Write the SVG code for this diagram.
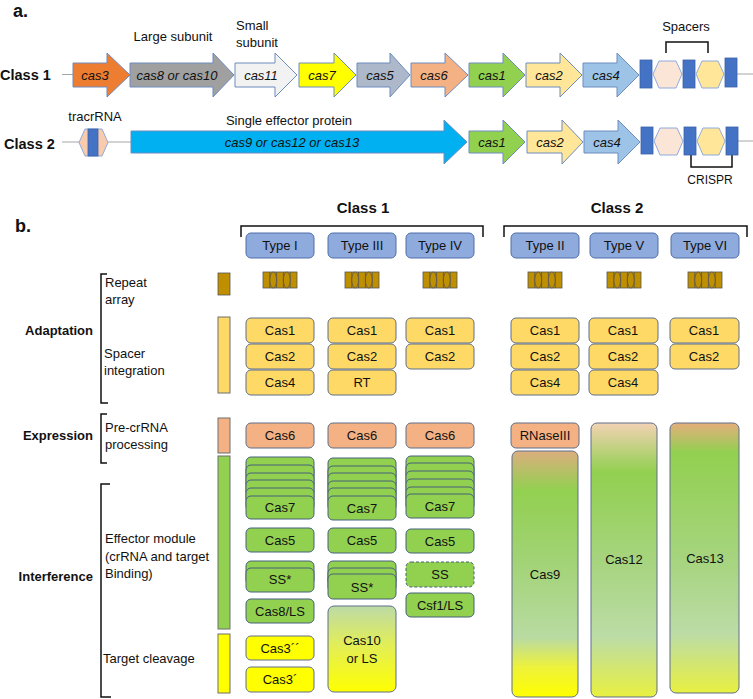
<svg xmlns="http://www.w3.org/2000/svg" width="753" height="699" viewBox="0 0 753 699">
<style>
text{font-family:"Liberation Sans",Arial,sans-serif;fill:#111}
.it{font-style:italic;font-size:13px;text-anchor:middle}
.lb{font-size:13px}
.bd{font-weight:bold;font-size:14px}
.c{text-anchor:middle}
.r{text-anchor:end}
.arr{stroke:#6d8cbf;stroke-width:1}
.ln{stroke:#a6a6a6;stroke-width:1;fill:none}
.rep{fill:#4472c4;stroke:#3a62a8;stroke-width:0.8}
.hex{stroke:#8faadc;stroke-width:1}
.br{fill:none;stroke:#111;stroke-width:1.5}
.typ{fill:#8faadc;stroke:#4f6fa8;stroke-width:1}
.y{fill:#ffd966;stroke:#5f6f8a;stroke-width:1}
.o{fill:#f4b183;stroke:#5f6f8a;stroke-width:1}
.g{fill:#92d050;stroke:#46607a;stroke-width:1}
.ye{fill:#ffff00;stroke:#5f6f8a;stroke-width:1}
.bar{stroke:#6f6f6f;stroke-width:1}
.bt{font-size:13px;text-anchor:middle}
</style>
<defs>
<g id="ra">
<rect x="0" y="0" width="34" height="16" fill="#bf8f00" stroke="#555" stroke-width="0.8"/>
<path d="M6.8 0V16M13.6 0V16M20.4 0V16M27.2 0V16" stroke="#555" stroke-width="0.8"/>
<ellipse cx="10.2" cy="8" rx="3.4" ry="8" fill="#bf8f00" stroke="#555" stroke-width="0.8"/>
<ellipse cx="23.8" cy="8" rx="3.4" ry="8" fill="#bf8f00" stroke="#555" stroke-width="0.8"/>
</g>
<linearGradient id="gCas9" x1="0" y1="0" x2="0" y2="1">
<stop offset="0" stop-color="#dcae7e"/><stop offset="0.16" stop-color="#92d050"/><stop offset="0.45" stop-color="#a2d376"/><stop offset="0.76" stop-color="#b9dba2"/><stop offset="0.88" stop-color="#eef23a"/><stop offset="1" stop-color="#ffff00"/>
</linearGradient>
<linearGradient id="gCas12" x1="0" y1="0" x2="0" y2="1">
<stop offset="0" stop-color="#f2d2b4"/><stop offset="0.18" stop-color="#92d050"/><stop offset="0.5" stop-color="#a6d47e"/><stop offset="0.78" stop-color="#bcdca6"/><stop offset="1" stop-color="#e8f040"/>
</linearGradient>
<linearGradient id="gCas13" x1="0" y1="0" x2="0" y2="1">
<stop offset="0" stop-color="#e4ae7c"/><stop offset="0.11" stop-color="#92d050"/><stop offset="0.5" stop-color="#a6d47e"/><stop offset="0.78" stop-color="#bcdca6"/><stop offset="1" stop-color="#e8f040"/>
</linearGradient>
<linearGradient id="gCas10" x1="0" y1="0" x2="0" y2="1">
<stop offset="0" stop-color="#bcdaa6"/><stop offset="0.45" stop-color="#e2ee58"/><stop offset="1" stop-color="#ffff00"/>
</linearGradient>
</defs>

<!-- Part a -->
<text x="13" y="17" class="bd" style="font-size:18px">a.</text>
<text x="0" y="80" class="bd" style="font-size:14.5px">Class 1</text>
<text x="4" y="149" class="bd" style="font-size:14.5px">Class 2</text>

<g id="connectors">
<path class="ln" d="M62 74.5H73M737 74H753M62 142H80M108 142H131M738 141H753"/>
<path class="br" d="M666 53V42H708V53"/>
<path class="br" d="M691 155V167H732V155"/>
<path class="br" d="M241 237V226H483V237"/>
<path class="br" d="M504 237V226H747V237"/>
<path class="br" d="M107 274H101V403H108"/>
<path class="br" d="M107 414H101V463H107"/>
<path class="br" d="M110 484H101V697H111"/>
</g>

<text x="173" y="41" class="lb c">Large subunit</text>
<text x="236" y="30" class="lb">Small</text>
<text x="236" y="47" class="lb">subunit</text>
<text x="686" y="31" class="lb c">Spacers</text>
<text x="95" y="121" class="lb c">tracrRNA</text>
<text x="289" y="125" class="lb c">Single effector protein</text>
<text x="710" y="184" class="lb c" style="font-size:12px">CRISPR</text>

<g id="cas3"><path class="arr" fill="#ed7d31" d="M73 63H107V53L130 75L107 97V87H73Z"/><text x="95" y="80" class="it">cas3</text></g>
<g id="cas8"><path class="arr" fill="#a0a0a0" d="M130 63H213V53L234 75L213 97V87H130Z"/><text x="177" y="80" class="it">cas8 or cas10</text></g>
<g id="cas11"><path class="arr" fill="#f2f2f2" d="M235 63H275V53L297 75L275 97V87H235Z"/><text x="261" y="80" class="it">cas11</text></g>
<g id="cas7a"><path class="arr" fill="#ffff00" d="M299 63H334V53L356 75L334 97V87H299Z"/><text x="322" y="80" class="it">cas7</text></g>
<g id="cas5a"><path class="arr" fill="#adb9ca" d="M357 63H390V53L410 75L390 97V87H357Z"/><text x="380" y="80" class="it">cas5</text></g>
<g id="cas6a"><path class="arr" fill="#f4b183" d="M411 63H445V53L468 75L445 97V87H411Z"/><text x="434" y="80" class="it">cas6</text></g>
<g id="cas1a"><path class="arr" fill="#92d050" d="M469 63H503V53L525 75L503 97V87H469Z"/><text x="492" y="80" class="it">cas1</text></g>
<g id="cas2a"><path class="arr" fill="#ffe699" d="M526 63H560V53L582 75L560 97V87H526Z"/><text x="549" y="80" class="it">cas2</text></g>
<g id="cas4a"><path class="arr" fill="#9dc3e6" d="M583 63H617V53L639 75L617 97V87H583Z"/><text x="606" y="80" class="it">cas4</text></g>
<g id="crispr1">
<rect class="rep" x="640" y="60" width="12" height="28"/>
<polygon class="hex" fill="#fbe5d6" points="653,74 659,61 676,61 682,74 676,88 659,88"/>
<rect class="rep" x="683" y="60" width="12" height="28"/>
<polygon class="hex" fill="#ffe699" points="696,74 702,61 718,61 724,74 718,88 702,88"/>
<rect class="rep" x="725" y="58" width="12" height="29"/>
</g>

<g id="tracr">
<polygon class="hex" fill="#f8cbad" points="79,142.5 85,129 102,129 108,142.5 102,156 85,156"/>
<rect class="rep" x="88" y="129" width="10" height="27"/>
</g>
<g id="cas9a"><path class="arr" fill="#00b0f0" d="M131 131H444V120L467 142L444 164V153H131Z"/><text x="292" y="147" class="it">cas9 or cas12 or cas13</text></g>
<g id="cas1b"><path class="arr" fill="#92d050" d="M469 131H503V120L525 142L503 164V153H469Z"/><text x="492" y="147" class="it">cas1</text></g>
<g id="cas2b"><path class="arr" fill="#ffe699" d="M527 131H562V120L583 142L562 164V153H527Z"/><text x="550" y="147" class="it">cas2</text></g>
<g id="cas4b"><path class="arr" fill="#9dc3e6" d="M584 131H618V120L640 142L618 164V153H584Z"/><text x="607" y="147" class="it">cas4</text></g>
<g id="crispr2">
<rect class="rep" x="641" y="127" width="12" height="27"/>
<polygon class="hex" fill="#fbe5d6" points="654,141 660,128 677,128 683,141 677,155 660,155"/>
<rect class="rep" x="684" y="127" width="12" height="28"/>
<polygon class="hex" fill="#ffe699" points="697,141 703,128 719,128 725,141 719,155 703,155"/>
<rect class="rep" x="726" y="127" width="12" height="28"/>
</g>

<!-- Part b -->
<text x="15" y="232" class="bd" style="font-size:18px">b.</text>
<text x="363" y="213" class="bd c" style="font-size:15px">Class 1</text>
<text x="617" y="213" class="bd c" style="font-size:15px">Class 2</text>

<g id="typeI"><rect class="typ" x="246" y="233" width="68" height="25" rx="5"/><text x="280" y="250" class="bt">Type I</text></g>
<g id="typeIII"><rect class="typ" x="328" y="233" width="68" height="25" rx="5"/><text x="362" y="250" class="bt">Type III</text></g>
<g id="typeIV"><rect class="typ" x="406" y="233" width="68" height="25" rx="5"/><text x="440" y="250" class="bt">Type IV</text></g>
<g id="typeII"><rect class="typ" x="511" y="233" width="68" height="25" rx="5"/><text x="545" y="250" class="bt">Type II</text></g>
<g id="typeV"><rect class="typ" x="590" y="233" width="68" height="25" rx="5"/><text x="624" y="250" class="bt">Type V</text></g>
<g id="typeVI"><rect class="typ" x="671" y="233" width="68" height="25" rx="5"/><text x="705" y="250" class="bt">Type VI</text></g>

<g id="repeats">
<rect x="218" y="273" width="12" height="22" fill="#bf8f00" stroke="#555" stroke-width="0.8"/>
<use href="#ra" x="263" y="272"/>
<use href="#ra" x="345" y="272"/>
<use href="#ra" x="423" y="272"/>
<use href="#ra" x="528" y="272"/>
<use href="#ra" x="607" y="272"/>
<use href="#ra" x="688" y="272"/>
</g>

<g id="labels">
<text x="105" y="287" class="lb">Repeat</text>
<text x="105" y="304" class="lb">array</text>
<text x="93" y="335" class="bd r" style="font-size:13px">Adaptation</text>
<text x="104" y="358" class="lb">Spacer</text>
<text x="104" y="375" class="lb">integration</text>
<text x="93" y="440" class="bd r" style="font-size:13px">Expression</text>
<text x="105" y="432" class="lb">Pre-crRNA</text>
<text x="105" y="449" class="lb">processing</text>
<text x="93" y="581" class="bd r" style="font-size:13px">Interference</text>
<text x="105" y="543" class="lb">Effector module</text>
<text x="105" y="561" class="lb">(crRNA and target</text>
<text x="105" y="578" class="lb">Binding)</text>
<text x="103" y="663" class="lb">Target cleavage</text>
</g>

<g id="bars">
<rect class="bar" x="218" y="317" width="12" height="76" fill="#ffd966"/>
<rect class="bar" x="218" y="418" width="12" height="35" fill="#f4b183"/>
<rect class="bar" x="218" y="456" width="12" height="173" fill="#92d050"/>
<rect class="bar" x="218" y="634" width="12" height="59" fill="#ffff00"/>
</g>

<!-- Adaptation proteins -->
<g id="adaptI">
<rect class="y" x="246" y="318" width="68" height="25" rx="5"/><text x="280" y="335" class="bt">Cas1</text>
<rect class="y" x="246" y="344" width="68" height="25" rx="5"/><text x="280" y="361" class="bt">Cas2</text>
<rect class="y" x="246" y="370" width="68" height="25" rx="5"/><text x="280" y="387" class="bt">Cas4</text>
</g>
<g id="adaptIII">
<rect class="y" x="328" y="318" width="68" height="25" rx="5"/><text x="362" y="335" class="bt">Cas1</text>
<rect class="y" x="328" y="344" width="68" height="25" rx="5"/><text x="362" y="361" class="bt">Cas2</text>
<rect class="y" x="328" y="370" width="68" height="25" rx="5"/><text x="362" y="387" class="bt">RT</text>
</g>
<g id="adaptIV">
<rect class="y" x="406" y="318" width="68" height="25" rx="5"/><text x="440" y="335" class="bt">Cas1</text>
<rect class="y" x="406" y="344" width="68" height="25" rx="5"/><text x="440" y="361" class="bt">Cas2</text>
</g>
<g id="adaptII">
<rect class="y" x="511" y="318" width="68" height="25" rx="5"/><text x="545" y="335" class="bt">Cas1</text>
<rect class="y" x="511" y="344" width="68" height="25" rx="5"/><text x="545" y="361" class="bt">Cas2</text>
<rect class="y" x="511" y="370" width="68" height="25" rx="5"/><text x="545" y="387" class="bt">Cas4</text>
</g>
<g id="adaptV">
<rect class="y" x="589" y="318" width="69" height="25" rx="5"/><text x="623" y="335" class="bt">Cas1</text>
<rect class="y" x="589" y="344" width="69" height="25" rx="5"/><text x="623" y="361" class="bt">Cas2</text>
<rect class="y" x="589" y="370" width="69" height="25" rx="5"/><text x="623" y="387" class="bt">Cas4</text>
</g>
<g id="adaptVI">
<rect class="y" x="670" y="318" width="69" height="25" rx="5"/><text x="704" y="335" class="bt">Cas1</text>
<rect class="y" x="670" y="344" width="69" height="25" rx="5"/><text x="704" y="361" class="bt">Cas2</text>
</g>

<!-- Expression -->
<g id="cas6I"><rect class="o" x="246" y="423" width="68" height="25" rx="5"/><text x="280" y="440" class="bt">Cas6</text></g>
<g id="cas6III"><rect class="o" x="328" y="423" width="68" height="25" rx="5"/><text x="362" y="440" class="bt">Cas6</text></g>
<g id="cas6IV"><rect class="o" x="406" y="423" width="68" height="25" rx="5"/><text x="440" y="440" class="bt">Cas6</text></g>
<g id="rnase"><rect class="o" x="511" y="423" width="68" height="25" rx="5"/><text x="545" y="440" class="bt">RNaseIII</text></g>

<!-- Class 2 effectors -->
<g id="cas9"><rect x="512" y="451" width="66" height="246" rx="6" fill="url(#gCas9)" stroke="#5f6f8a" stroke-width="1"/><text x="545" y="579" class="bt">Cas9</text></g>
<g id="cas12"><rect x="591" y="423" width="66" height="274" rx="6" fill="url(#gCas12)" stroke="#5f6f8a" stroke-width="1"/><text x="624" y="564" class="bt">Cas12</text></g>
<g id="cas13"><rect x="670" y="423" width="69" height="270" rx="6" fill="url(#gCas13)" stroke="#5f6f8a" stroke-width="1"/><text x="705" y="563" class="bt">Cas13</text></g>

<!-- Cas7 stacks -->
<g id="cas7I">
<rect class="g" x="246" y="457" width="68" height="23" rx="5"/>
<rect class="g" x="246" y="465" width="68" height="23" rx="5"/>
<rect class="g" x="246" y="473" width="68" height="23" rx="5"/>
<rect class="g" x="246" y="480" width="68" height="23" rx="5"/>
<rect class="g" x="246" y="488" width="68" height="23" rx="5"/>
<rect class="g" x="246" y="496" width="68" height="23" rx="5"/>
<text x="280" y="512" class="bt">Cas7</text>
</g>
<g id="cas7III">
<rect class="g" x="328" y="458" width="68" height="23" rx="5"/>
<rect class="g" x="328" y="466" width="68" height="23" rx="5"/>
<rect class="g" x="328" y="473" width="68" height="23" rx="5"/>
<rect class="g" x="328" y="481" width="68" height="23" rx="5"/>
<rect class="g" x="328" y="488" width="68" height="23" rx="5"/>
<rect class="g" x="328" y="496" width="68" height="24" rx="5"/>
<text x="362" y="513" class="bt">Cas7</text>
</g>
<g id="cas7IV">
<rect class="g" x="406" y="456" width="68" height="23" rx="5"/>
<rect class="g" x="406" y="463" width="68" height="23" rx="5"/>
<rect class="g" x="406" y="471" width="68" height="23" rx="5"/>
<rect class="g" x="406" y="479" width="68" height="23" rx="5"/>
<rect class="g" x="406" y="487" width="68" height="23" rx="5"/>
<rect class="g" x="406" y="494" width="68" height="24" rx="5"/>
<text x="440" y="511" class="bt">Cas7</text>
</g>

<g id="cas5I"><rect class="g" x="246" y="528" width="68" height="24" rx="5"/><text x="280" y="545" class="bt">Cas5</text></g>
<g id="cas5III"><rect class="g" x="328" y="528" width="68" height="25" rx="5"/><text x="362" y="545" class="bt">Cas5</text></g>
<g id="cas5IV"><rect class="g" x="406" y="529" width="68" height="24" rx="5"/><text x="440" y="546" class="bt">Cas5</text></g>

<g id="ssI">
<rect class="g" x="246" y="561" width="68" height="24" rx="5"/>
<rect class="g" x="246" y="568" width="68" height="24" rx="5"/>
<text x="280" y="584" class="bt">SS*</text>
</g>
<g id="ssIII">
<rect class="g" x="328" y="561" width="68" height="24" rx="5"/>
<rect class="g" x="328" y="568" width="68" height="24" rx="5"/>
<rect class="g" x="328" y="574" width="68" height="25" rx="5"/>
<text x="362" y="592" class="bt">SS*</text>
</g>
<g id="ssIV"><rect class="g" x="406" y="562" width="68" height="25" rx="5" stroke-dasharray="3,2"/><text x="440" y="579" class="bt">SS</text></g>

<g id="cas8ls"><rect class="g" x="246" y="599" width="68" height="24" rx="5"/><text x="280" y="616" class="bt">Cas8/LS</text></g>
<g id="csf1ls"><rect class="g" x="406" y="593" width="68" height="24" rx="5"/><text x="440" y="610" class="bt">Csf1/LS</text></g>
<g id="cas10"><rect x="328" y="606" width="68" height="86" rx="6" fill="url(#gCas10)" stroke="#5f6f8a" stroke-width="1"/><text x="362" y="645" class="bt">Cas10</text><text x="362" y="663" class="bt">or LS</text></g>

<g id="cas3pp"><rect class="ye" x="246" y="636" width="68" height="24" rx="5"/><text x="280" y="653" class="bt">Cas3´´</text></g>
<g id="cas3p"><rect class="ye" x="246" y="667" width="68" height="25" rx="5"/><text x="280" y="684" class="bt">Cas3´</text></g>
</svg>
